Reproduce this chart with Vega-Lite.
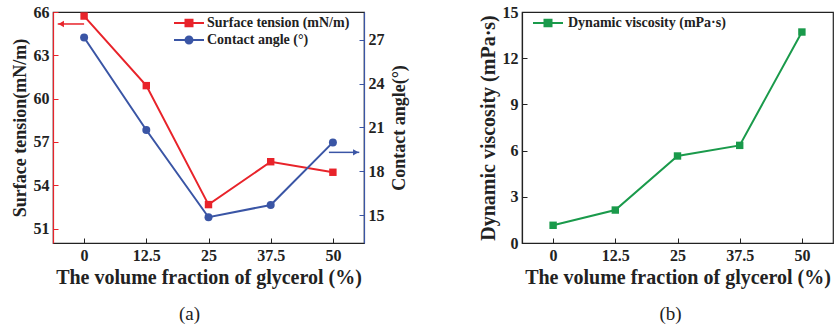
{
  "$schema": "https://vega.github.io/schema/vega-lite/v6.json",
  "padding": {"left": 10, "top": 3, "right": 0, "bottom": 0},
  "background": "white",
  "datasets": {
    "st": [
      {"frac": 0, "value": 65.72, "series": "Surface tension (mN/m)"},
      {"frac": 12.5, "value": 60.9, "series": "Surface tension (mN/m)"},
      {"frac": 25, "value": 52.66, "series": "Surface tension (mN/m)"},
      {"frac": 37.5, "value": 55.63, "series": "Surface tension (mN/m)"},
      {"frac": 50, "value": 54.9, "series": "Surface tension (mN/m)"}
    ],
    "ca": [
      {"frac": 0, "ang": 27.16, "series": "Contact angle (°)"},
      {"frac": 12.5, "ang": 20.83, "series": "Contact angle (°)"},
      {"frac": 25, "ang": 14.86, "series": "Contact angle (°)"},
      {"frac": 37.5, "ang": 15.7, "series": "Contact angle (°)"},
      {"frac": 50, "ang": 19.98, "series": "Contact angle (°)"}
    ],
    "dv": [
      {"frac": 0, "value": 1.15, "series": "Dynamic viscosity (mPa·s)"},
      {"frac": 12.5, "value": 2.14, "series": "Dynamic viscosity (mPa·s)"},
      {"frac": 25, "value": 5.65, "series": "Dynamic viscosity (mPa·s)"},
      {"frac": 37.5, "value": 6.34, "series": "Dynamic viscosity (mPa·s)"},
      {"frac": 50, "value": 13.7, "series": "Dynamic viscosity (mPa·s)"}
    ],
    "arrowL": [{"frac": 0, "tip": -5.3, "value": 65.17}],
    "headL": [{"frac": -4.6, "value": 65.17}],
    "arrowR": [{"frac": 49.2, "tip": 55.3, "ang": 19.3}],
    "headR": [{"frac": 54.6, "ang": 19.3}]
  },
  "config": {
    "font": "Liberation Serif",
    "view": {"stroke": "#222", "strokeWidth": 1.2},
    "axis": {
      "labelFont": "Liberation Serif",
      "labelFontWeight": "bold",
      "labelFontSize": 16,
      "labelColor": "#222",
      "labelOverlap": false,
      "titleFont": "Liberation Serif",
      "titleFontWeight": "bold",
      "titleFontSize": 18,
      "titleColor": "#222",
      "grid": false,
      "domainColor": "#222",
      "domainWidth": 1.2,
      "tickColor": "#222",
      "tickWidth": 1,
      "tickSize": -5,
      "labelPadding": 9,
      "titlePadding": 4
    },
    "legend": {
      "labelFont": "Liberation Serif",
      "labelFontWeight": "bold",
      "labelFontSize": 14,
      "labelColor": "#222"
    }
  },
  "hconcat": [
    {
      "width": 311,
      "height": 231,
      "title": {"text": "(a)", "orient": "bottom", "fontSize": 19, "fontWeight": "normal", "font": "Liberation Serif", "color": "#222", "frame": "group", "anchor": "middle", "dx": -19, "offset": 18},
      "layer": [
        {
          "layer": [
            {
              "data": {"name": "st"},
              "mark": {"type": "line", "strokeWidth": 2, "point": {"shape": "square", "size": 55, "filled": true, "opacity": 1}},
              "encoding": {
                "x": {"field": "frac", "type": "quantitative", "scale": {"domain": [-6.25, 56.25], "nice": false, "zero": false},
                  "axis": {"values": [0, 12.5, 25, 37.5, 50], "format": ".3~r", "labelOverlap": false, "title": "The volume fraction of glycerol (%)", "titleFontSize": 20}},
                "y": {"field": "value", "type": "quantitative", "scale": {"domain": [50, 66], "nice": false, "zero": false},
                  "axis": {"orient": "left", "values": [51, 52.5, 54, 55.5, 57, 58.5, 60, 61.5, 63, 64.5, 66],
                    "labelOverlap": false,
                    "labelExpr": "datum.value % 3 == 0 ? datum.label : ''",
                    "tickSize": {"condition": {"test": "datum.value % 3 == 0", "value": -5}, "value": -3},
                    "domainColor": "#E8232A", "tickColor": "#E8232A", "title": "Surface tension(mN/m)"}},
                "color": {"field": "series", "type": "nominal",
                  "scale": {"domain": ["Surface tension (mN/m)", "Contact angle (°)"], "range": ["#E8232A", "#3A55A5"]},
                  "legend": {"title": null, "orient": "none", "legendX": 120, "legendY": 4, "symbolSize": 144, "labelOffset": 20, "rowPadding": 3,
                    "encode": {"symbols": {"update": {
                      "shape": {"signal": "datum.value === 'Surface tension (mN/m)' ? 'M-1,-0.17H4V0.17H-1Z M0.75,-0.72H2.25V0.72H0.75Z' : 'M-1,-0.17H4V0.17H-1Z M2.25,0A0.75,0.75 0 1,1 0.75,0A0.75,0.75 0 1,1 2.25,0Z'"},
                      "fill": {"signal": "datum.value === 'Surface tension (mN/m)' ? '#E8232A' : '#3A55A5'"},
                      "stroke": {"value": "transparent"},
                      "fillOpacity": {"value": 1},
                      "opacity": {"value": 1},
                      "strokeWidth": {"value": 0}
                    }}}}}
              }
            },
            {
              "data": {"name": "arrowL"},
              "mark": {"type": "rule", "color": "#E8232A", "strokeWidth": 1.5},
              "encoding": {
                "x": {"field": "frac", "type": "quantitative"},
                "x2": {"field": "tip"},
                "y": {"field": "value", "type": "quantitative"}
              }
            },
            {
              "data": {"name": "headL"},
              "mark": {"type": "point", "shape": "triangle-left", "filled": true, "color": "#E8232A", "size": 40, "opacity": 1},
              "encoding": {
                "x": {"field": "frac", "type": "quantitative"},
                "y": {"field": "value", "type": "quantitative"}
              }
            }
          ]
        },
        {
          "layer": [
            {
              "data": {"name": "ca"},
              "mark": {"type": "line", "strokeWidth": 2, "point": {"shape": "circle", "size": 64, "filled": true, "opacity": 1}},
              "encoding": {
                "x": {"field": "frac", "type": "quantitative", "scale": {"domain": [-6.25, 56.25], "nice": false, "zero": false}},
                "y": {"field": "ang", "type": "quantitative", "scale": {"domain": [13.1, 28.9], "nice": false, "zero": false},
                  "axis": {"orient": "right", "values": [15, 18, 21, 24, 27],
                    "format": "d",
                    "labelOverlap": false,
                    "labels": true,
                    "domainColor": "#3A55A5", "tickColor": "#3A55A5", "title": "Contact angle(°)", "titleAngle": 270, "titleBaseline": "top", "titlePadding": 6}},
                "color": {"field": "series", "type": "nominal",
                  "scale": {"domain": ["Surface tension (mN/m)", "Contact angle (°)"], "range": ["#E8232A", "#3A55A5"]}}
              }
            },
            {
              "data": {"name": "arrowR"},
              "mark": {"type": "rule", "color": "#3A55A5", "strokeWidth": 1.5},
              "encoding": {
                "x": {"field": "frac", "type": "quantitative"},
                "x2": {"field": "tip"},
                "y": {"field": "ang", "type": "quantitative"}
              }
            },
            {
              "data": {"name": "headR"},
              "mark": {"type": "point", "shape": "triangle-right", "filled": true, "color": "#3A55A5", "size": 40, "opacity": 1},
              "encoding": {
                "x": {"field": "frac", "type": "quantitative"},
                "y": {"field": "ang", "type": "quantitative"}
              }
            }
          ]
        }
      ],
      "resolve": {"scale": {"y": "independent"}, "axis": {"y": "independent"}}
    },
    {
      "width": 311,
      "height": 231,
      "title": {"text": "(b)", "orient": "bottom", "fontSize": 19, "fontWeight": "normal", "font": "Liberation Serif", "color": "#222", "frame": "group", "anchor": "middle", "dx": -7, "offset": 18},
      "data": {"name": "dv"},
      "mark": {"type": "line", "strokeWidth": 2, "point": {"shape": "square", "size": 55, "filled": true, "opacity": 1}},
      "encoding": {
        "x": {"field": "frac", "type": "quantitative", "scale": {"domain": [-6.25, 56.25], "nice": false, "zero": false},
          "axis": {"values": [0, 12.5, 25, 37.5, 50], "format": ".3~r", "labelOverlap": false, "title": "The volume fraction of glycerol (%)", "titleFontSize": 20}},
        "y": {"field": "value", "type": "quantitative", "scale": {"domain": [0, 15], "nice": false, "zero": false},
          "axis": {"values": [0, 3, 6, 9, 12, 15], "labelOverlap": false, "title": "Dynamic viscosity (mPa·s)", "titleFontSize": 20}},
        "color": {"field": "series", "type": "nominal",
          "scale": {"domain": ["Dynamic viscosity (mPa·s)"], "range": ["#1A9A4B"]},
          "legend": {"title": null, "orient": "none", "legendX": 10, "legendY": 4, "symbolSize": 144, "labelOffset": 22,
            "encode": {"symbols": {"update": {
              "shape": {"value": "M-1,-0.17H4V0.17H-1Z M0.75,-0.72H2.25V0.72H0.75Z"},
              "fill": {"value": "#1A9A4B"},
              "stroke": {"value": "transparent"},
              "fillOpacity": {"value": 1},
              "opacity": {"value": 1},
              "strokeWidth": {"value": 0}
            }}}}}
      }
    }
  ],
  "spacing": 158,
  "bounds": "flush",
  "resolve": {"scale": {"color": "independent"}, "legend": {"color": "independent"}}
}
